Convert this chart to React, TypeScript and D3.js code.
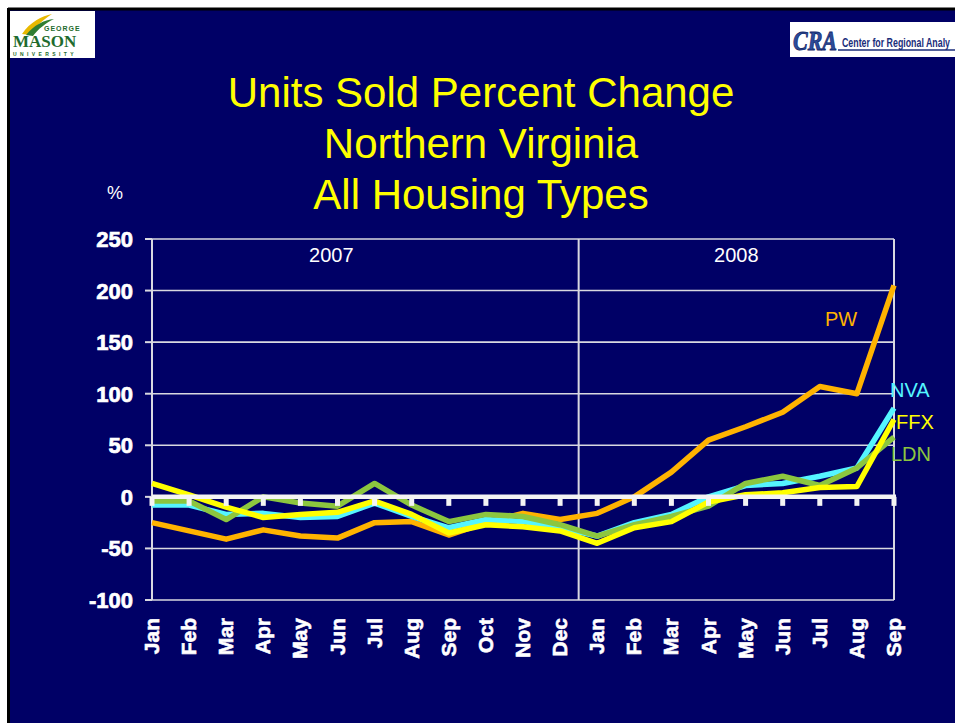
import * as d3 from 'd3';

// Category labels (Jan 2007 .. Sep 2008)
const months = [
  'Jan', 'Feb', 'Mar', 'Apr', 'May', 'Jun', 'Jul', 'Aug', 'Sep', 'Oct', 'Nov', 'Dec',
  'Jan', 'Feb', 'Mar', 'Apr', 'May', 'Jun', 'Jul', 'Aug', 'Sep',
];
const yTicks = [250, 200, 150, 100, 50, 0, -50, -100];
const titleLines = ['Units Sold Percent Change', 'Northern Virginia', 'All Housing Types'];

// Series values (% change)
const pw = [-25, -33, -41, -32, -38, -40, -25, -24, -37, -25, -16, -22, -16, 0, 24, 55, 68, 82, 107, 100, 205];
const nva = [-8, -8, -17, -16, -20, -19, -6, -19, -30, -22, -24, -30, -38, -25, -17, 0, 11, 13, 20, 28, 86];
const ldn = [-4, -4, -22, 0, -6, -9, 13, -8, -24, -17, -19, -27, -38, -27, -19, -9, 13, 20, 11, 28, 58];
const ffx = [13, 2, -10, -20, -17, -15, -4, -17, -35, -27, -29, -33, -45, -30, -24, -5, 2, 4, 9, 10, 75];

const series = [
  { name: 'PW', values: pw, color: '#FFB300', lx: 825, ly: 326 },
  { name: 'NVA', values: nva, color: '#55F5FF', lx: 890, ly: 397 },
  { name: 'LDN', values: ldn, color: '#8CC63F', lx: 891, ly: 461 },
  { name: 'FFX', values: ffx, color: '#FFFF00', lx: 896, ly: 429 },
];

const BG = '#000066';
const GRID = '#D8D8E0';

export default function App() {
  const left = 152;
  const right = 894;
  const top = 239;
  const bottom = 600;

  const x = d3.scalePoint<number>().domain(d3.range(months.length)).range([left, right]);
  const y = d3.scaleLinear().domain([-100, 250]).range([bottom, top]);
  const line = d3
    .line<number>()
    .x((_, i) => x(i) as number)
    .y((d) => y(d));

  const divider = ((x(11) as number) + (x(12) as number)) / 2;

  return (
    <div style={{ position: 'absolute', left: 0, top: 0 }}>
      <svg width={955} height={723} style={{ display: 'block' }} fontFamily="Arial, 'Liberation Sans', sans-serif">
        <rect x={0} y={0} width={955} height={723} fill="#ffffff" />
        <rect x={8} y={8} width={947} height={715} fill={BG} />
        <line x1={8} y1={9} x2={955} y2={9} stroke="#000" strokeWidth={3} />
        <line x1={8.5} y1={8} x2={8.5} y2={723} stroke="#000" strokeWidth={3} />

        {/* GMU logo */}
        <rect x={10} y={11} width={85} height={47} fill="#fff" />
        <path d="M22,34 C30,22 42,16 52,14 C44,19 36,26 30,35 Z" fill="#E8B800" />
        <path d="M26,35 C34,25 44,20 54,19 C46,23 38,29 33,36 Z" fill="#2F7D32" />
        <text x={44} y={31} fontSize={7} fontWeight="bold" fill="#1E6B2E" letterSpacing={1}>GEORGE</text>
        <text x={13} y={47} fontSize={17} fontWeight="bold" fill="#1E6B2E" fontFamily="'Liberation Serif', serif">MASON</text>
        <text x={13} y={56} fontSize={5} fontWeight="bold" fill="#1E6B2E" letterSpacing={3.4}>UNIVERSITY</text>

        {/* CRA logo */}
        <rect x={790} y={22} width={165} height={35} fill="#fff" />
        <text x={793} y={50} fontSize={28} fontWeight="bold" fontStyle="italic" fill="#2B4C9B" stroke="#13276B" strokeWidth={0.8} fontFamily="'Liberation Serif', serif" textLength={44} lengthAdjust="spacingAndGlyphs">CRA</text>
        <text x={842} y={47} fontSize={13} fontWeight="bold" fill="#1A2D7A" fontFamily="'Liberation Sans Narrow', 'Liberation Sans', sans-serif" textLength={108} lengthAdjust="spacingAndGlyphs">Center for Regional Analy</text>
        <line x1={838} y1={50} x2={955} y2={50} stroke="#1A2D7A" strokeWidth={1.5} />

        {/* Title */}
        {titleLines.map((t, i) => (
          <text key={i} x={481} y={107 + i * 51} fontSize={42} fill="#FFFF00" textAnchor="middle">
            {t}
          </text>
        ))}
        <text x={115} y={199} fontSize={18} fill="#fff" textAnchor="middle">%</text>

        {/* Grid lines */}
        {yTicks.map((t) => (
          <g key={t}>
            <line x1={left} x2={right} y1={y(t)} y2={y(t)} stroke={GRID} strokeWidth={t === 0 ? 0 : 1.6} />
            <line x1={left - 7} x2={left} y1={y(t)} y2={y(t)} stroke={GRID} strokeWidth={2} />
            <text
              x={133}
              y={y(t) + 8}
              fontSize={22}
              fontWeight="bold"
              fill="#fff"
              stroke="#fff"
              strokeWidth={0.7}
              textAnchor="end"
            >
              {t}
            </text>
          </g>
        ))}
        <line x1={left} x2={left} y1={top} y2={bottom} stroke={GRID} strokeWidth={2} />
        <line x1={right} x2={right} y1={top} y2={bottom} stroke={GRID} strokeWidth={2} />
        <line x1={divider} x2={divider} y1={top} y2={bottom} stroke={GRID} strokeWidth={2} />

        <text x={(left + divider) / 2 - 34} y={262} fontSize={20} fill="#fff" textAnchor="middle">2007</text>
        <text x={(divider + right) / 2 + 0} y={262} fontSize={20} fill="#fff" textAnchor="middle">2008</text>

        {/* Series */}
        {series.map((s) => (
          <path
            key={s.name}
            d={line(s.values) ?? ''}
            fill="none"
            stroke={s.color}
            strokeWidth={5.5}
            strokeLinejoin="round"
          />
        ))}

        {/* Zero axis with tick marks */}
        <line x1={left} x2={right + 2} y1={y(0)} y2={y(0)} stroke="#F4F4F4" strokeWidth={4.5} />
        {months.map((_, i) => (
          <rect key={i} x={(x(i) as number) - 2.5} y={y(0)} width={5} height={9} fill="#F4F4F4" />
        ))}

        {/* Series labels */}
        {series.map((s) => (
          <text key={s.name} x={s.lx} y={s.ly} fontSize={20} fill={s.color}>
            {s.name}
          </text>
        ))}

        {/* X-axis labels */}
        {months.map((m, i) => (
          <text
            key={i}
            transform={`translate(${(x(i) as number) + 7},618) rotate(-90)`}
            fontSize={21}
            fontWeight="bold"
            fill="#fff"
            stroke="#fff"
            strokeWidth={0.6}
            textAnchor="end"
          >
            {m}
          </text>
        ))}
      </svg>
    </div>
  );
}
